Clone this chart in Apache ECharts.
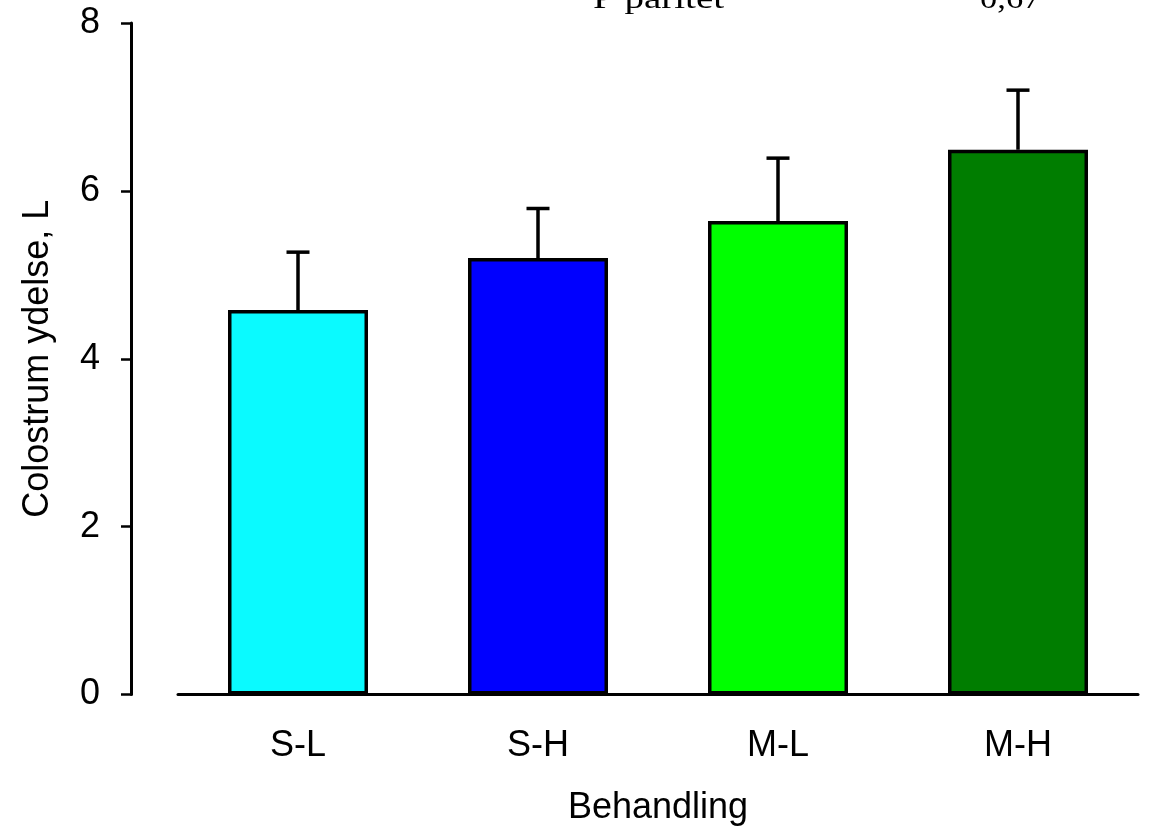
<!DOCTYPE html>
<html>
<head>
<meta charset="utf-8">
<script src="https://cdn.jsdelivr.net/npm/echarts@6/dist/echarts.min.js"></script>
<style>
  html, body { margin: 0; padding: 0; background: #ffffff; }
  #chart { width: 1153px; height: 826px; }
</style>
</head>
<body>
<div id="chart"></div>
<script>
// Treatment groups
const categories = ['S-L', 'S-H', 'M-L', 'M-H'];
// Mean colostrum yield (L) per group
const yieldMean = [4.58, 5.20, 5.64, 6.49];
// Standard error (upper whisker only)
const yieldSE = [0.69, 0.59, 0.75, 0.71];
// Bar fill per group
const barColors = ['#0AFAFF', '#0000FF', '#00FF00', '#007D00'];
// Y axis ticks
const yTicks = [0, 2, 4, 6, 8];
// Parity p-value note
const pLabel = 'P paritet';
const pValue = '0,67';

const sans = '"Liberation Sans", Arial, sans-serif';
const serif = '"Liberation Serif", "Times New Roman", serif';
const fs = 36;

const chart = echarts.init(document.getElementById('chart'), null, { renderer: 'canvas' });

const barData = yieldMean.map((v, i) => ({
  value: v,
  itemStyle: { color: barColors[i] }
}));
const errData = yieldMean.map((v, i) => [i, v, v + yieldSE[i]]);

chart.setOption({
  animation: false,
  backgroundColor: '#ffffff',
  grid: { left: 178, right: 15, top: 23, bottom: 131.5, containLabel: false, outerBoundsMode: 'none' },
  graphic: [
    {
      type: 'text', x: 593, y: -15, scaleX: 1.3,
      style: { text: pLabel, font: '30px ' + serif, fill: '#000' }
    },
    {
      type: 'text', x: 980, y: -15, scaleX: 1.15,
      style: { text: pValue, font: '30px ' + serif, fill: '#000' }
    }
  ],
  xAxis: {
    type: 'category',
    data: categories,
    name: 'Behandling',
    nameLocation: 'middle',
    nameGap: 95.5,
    nameTextStyle: { fontFamily: sans, fontSize: fs, color: '#000' },
    axisLine: { lineStyle: { color: '#000', width: 3 } },
    axisTick: { alignWithLabel: true, length: 10, lineStyle: { color: '#000', width: 2.5 } },
    axisLabel: { margin: 33.5, fontFamily: sans, fontSize: fs, color: '#000' },
    splitLine: { show: false }
  },
  yAxis: {
    type: 'value',
    min: yTicks[0],
    max: yTicks[yTicks.length - 1],
    interval: yTicks[1] - yTicks[0],
    offset: 47,
    name: 'Colostrum ydelse, L',
    nameLocation: 'middle',
    nameRotate: 90,
    nameGap: 75,
    nameTextStyle: { fontFamily: sans, fontSize: fs, color: '#000' },
    axisLine: { show: true, lineStyle: { color: '#000', width: 3 } },
    axisTick: { show: true, length: 10, lineStyle: { color: '#000', width: 2.5 } },
    axisLabel: { margin: 31, fontFamily: sans, fontSize: fs, color: '#000' },
    splitLine: { show: false }
  },
  series: [
    {
      type: 'bar',
      data: barData,
      barWidth: 140,
      itemStyle: { borderColor: '#000', borderWidth: 3.5 },
      z: 2
    },
    {
      type: 'custom',
      data: errData,
      z: 3,
      renderItem: function (params, api) {
        const base = api.coord([api.value(0), api.value(1)]);
        const top = api.coord([api.value(0), api.value(2)]);
        const half = 11.5;
        const style = { stroke: '#000', lineWidth: 3.5, fill: null };
        return {
          type: 'group',
          children: [
            { type: 'line', shape: { x1: base[0], y1: base[1], x2: top[0], y2: top[1] }, style: style },
            { type: 'line', shape: { x1: top[0] - half, y1: top[1], x2: top[0] + half, y2: top[1] }, style: style }
          ]
        };
      }
    }
  ]
});
</script>
</body>
</html>
